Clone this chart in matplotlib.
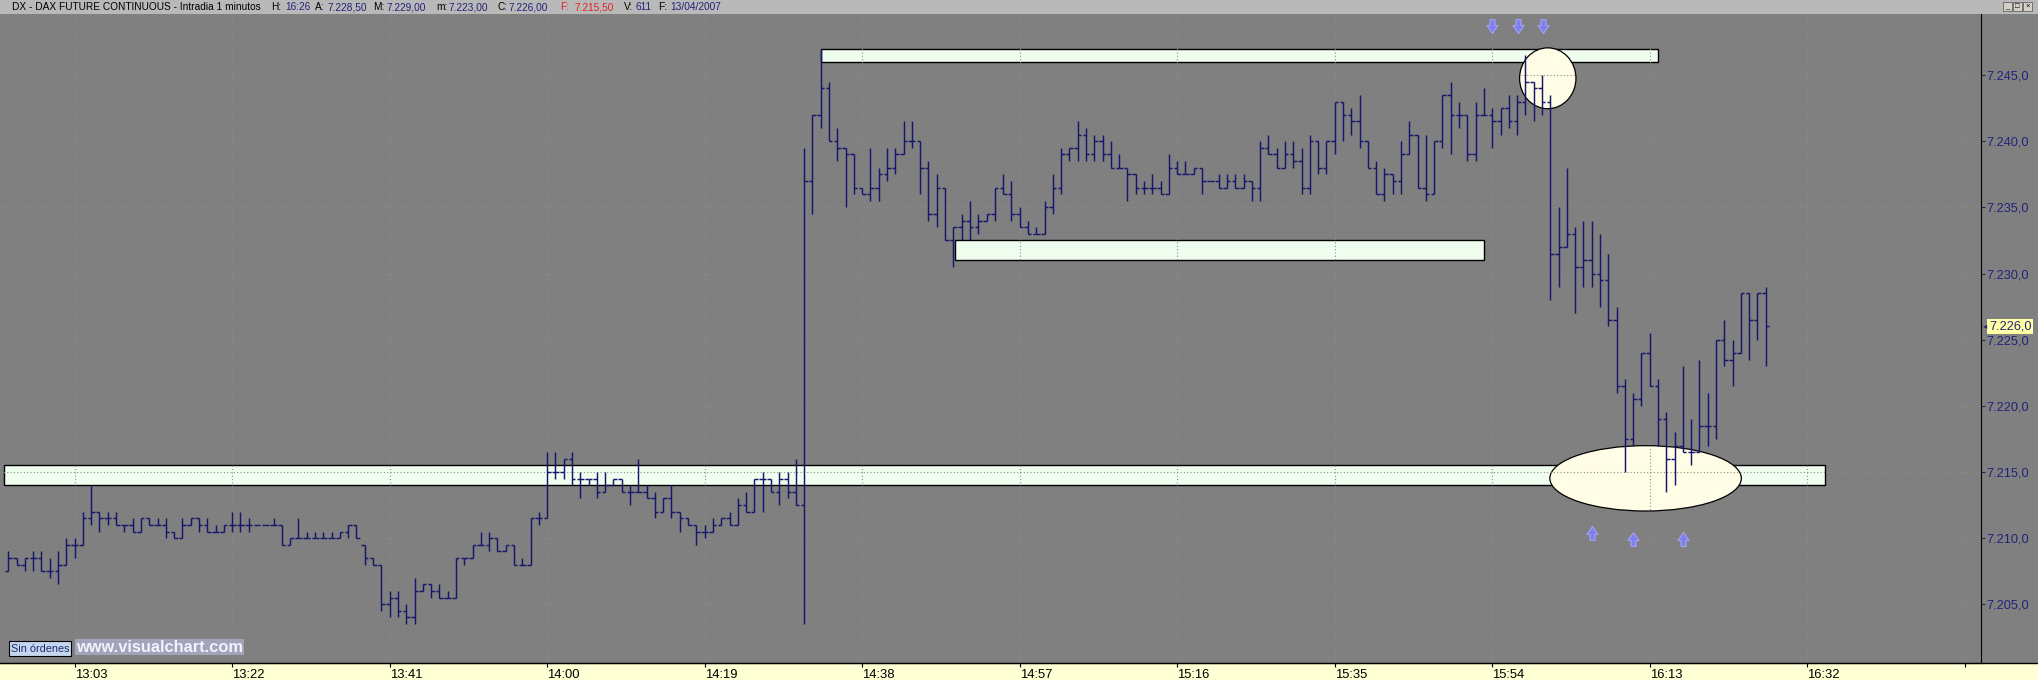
import numpy as np
import matplotlib
matplotlib.use("Agg")
import matplotlib.pyplot as plt
import matplotlib.transforms as mtransforms
from matplotlib.patches import Rectangle, Ellipse
from matplotlib.lines import Line2D

plt.rcParams['font.family'] = ['Liberation Sans', 'DejaVu Sans']

# 1 minute bars, DAX future, 13/04/2007, first bar 12:55
start_time = "12:55"
opens = [
    7207.5, 7208.5, 7208.0, 7208.5, 7208.5, 7207.5, 7207.5, 7208.0, 7209.5, 7209.5,
    7211.5, 7212.0, 7211.5, 7211.5, 7211.0, 7211.0, 7210.5, 7211.5, 7211.0, 7211.0,
    7210.5, 7210.0, 7211.0, 7211.5, 7211.0, 7210.5, 7210.5, 7211.0, 7211.0, 7211.0,
    7211.0, 7211.0, 7211.0, 7211.0, 7209.5, 7210.0, 7210.0, 7210.0, 7210.0, 7210.0,
    7210.0, 7210.5, 7211.0, 7209.5, 7208.5, 7208.0, 7205.0, 7205.5, 7204.5, 7204.0,
    7206.0, 7206.5, 7206.0, 7205.5, 7205.5, 7208.5, 7208.5, 7209.5, 7209.5, 7210.0,
    7209.0, 7209.5, 7208.0, 7208.0, 7211.5, 7211.5, 7215.0, 7215.0, 7216.0, 7214.5,
    7214.5, 7214.5, 7213.5, 7214.0, 7214.5, 7213.5, 7213.5, 7213.5, 7213.0, 7212.0,
    7213.0, 7212.0, 7211.5, 7211.0, 7210.5, 7210.5, 7211.0, 7211.5, 7211.0, 7212.5,
    7212.0, 7214.5, 7214.5, 7213.5, 7214.5, 7213.5, 7212.5, 7237.0, 7242.0, 7244.0,
    7240.0, 7239.5, 7239.0, 7236.5, 7236.0, 7236.5, 7237.5, 7238.0, 7239.0, 7240.0,
    7240.0, 7238.0, 7234.5, 7236.5, 7232.5, 7233.5, 7234.0, 7233.5, 7234.0, 7234.5,
    7236.5, 7236.0, 7234.5, 7233.5, 7233.0, 7233.0, 7235.0, 7236.5, 7239.0, 7239.5,
    7240.5, 7239.0, 7240.0, 7239.0, 7238.0, 7238.0, 7237.5, 7236.5, 7236.5, 7236.5,
    7236.0, 7238.0, 7237.5, 7237.5, 7238.0, 7237.0, 7237.0, 7236.5, 7237.0, 7236.5,
    7237.0, 7236.5, 7239.5, 7239.0, 7238.0, 7239.0, 7238.5, 7236.5, 7240.0, 7238.0,
    7240.0, 7243.0, 7242.0, 7241.5, 7240.0, 7238.0, 7236.0, 7237.5, 7237.0, 7239.0,
    7240.5, 7236.5, 7236.0, 7240.0, 7243.5, 7242.0, 7242.0, 7239.0, 7242.0, 7242.0,
    7241.5, 7242.5, 7241.5, 7243.0, 7244.5, 7244.0, 7243.0, 7231.5, 7232.0, 7233.0,
    7230.5, 7231.0, 7230.0, 7229.5, 7226.5, 7221.5, 7217.5, 7220.5, 7224.0, 7221.5,
    7219.0, 7216.0, 7217.0, 7216.5, 7216.5, 7218.5, 7218.5, 7225.0, 7223.5, 7224.0,
    7228.5, 7226.5, 7228.5,
]
highs = [
    7209.0, 7208.5, 7208.5, 7209.0, 7209.0, 7208.5, 7209.0, 7210.0, 7210.0, 7212.0,
    7214.0, 7212.0, 7212.0, 7212.0, 7211.0, 7211.5, 7211.5, 7211.5, 7211.5, 7211.5,
    7210.5, 7211.5, 7211.5, 7211.5, 7211.5, 7211.0, 7211.0, 7212.0, 7212.0, 7211.5,
    7211.0, 7211.0, 7211.5, 7211.0, 7210.0, 7211.5, 7210.5, 7210.5, 7210.5, 7210.5,
    7210.5, 7211.0, 7211.0, 7209.5, 7208.5, 7208.0, 7206.0, 7206.0, 7205.0, 7207.0,
    7206.5, 7206.5, 7206.5, 7206.0, 7208.5, 7208.5, 7209.5, 7210.5, 7210.5, 7210.0,
    7209.5, 7209.5, 7208.5, 7211.5, 7212.0, 7216.5, 7216.5, 7216.0, 7216.5, 7215.0,
    7214.5, 7215.0, 7215.0, 7214.5, 7214.5, 7214.0, 7216.0, 7214.0, 7213.5, 7213.0,
    7214.0, 7212.0, 7211.5, 7211.0, 7211.0, 7211.5, 7211.5, 7212.0, 7213.0, 7213.5,
    7214.5, 7215.0, 7214.5, 7215.0, 7215.0, 7216.0, 7239.5, 7242.0, 7247.0, 7244.5,
    7241.0, 7239.5, 7239.0, 7236.5, 7239.5, 7238.0, 7239.5, 7239.5, 7241.5, 7241.5,
    7240.0, 7238.5, 7237.5, 7236.5, 7233.5, 7234.5, 7235.5, 7234.5, 7234.5, 7236.5,
    7237.5, 7237.0, 7235.0, 7234.0, 7233.5, 7235.5, 7237.5, 7239.5, 7239.5, 7241.5,
    7241.0, 7240.5, 7240.5, 7240.0, 7239.0, 7238.0, 7237.5, 7237.0, 7237.5, 7237.0,
    7239.0, 7238.5, 7238.5, 7238.0, 7238.0, 7237.0, 7237.5, 7237.5, 7237.5, 7237.5,
    7237.0, 7240.0, 7240.5, 7239.5, 7240.0, 7240.0, 7239.5, 7240.5, 7240.0, 7240.0,
    7243.0, 7243.0, 7242.5, 7243.5, 7240.0, 7238.5, 7238.0, 7237.5, 7240.0, 7241.5,
    7240.5, 7240.5, 7240.0, 7243.5, 7244.5, 7243.0, 7242.0, 7243.0, 7244.0, 7242.5,
    7242.5, 7243.5, 7243.5, 7246.5, 7244.5, 7245.0, 7243.5, 7235.0, 7238.0, 7233.5,
    7234.0, 7234.0, 7233.0, 7231.5, 7227.5, 7222.0, 7221.0, 7224.0, 7225.5, 7222.0,
    7219.5, 7218.0, 7223.0, 7219.0, 7223.5, 7221.0, 7225.0, 7226.5, 7225.0, 7228.5,
    7228.5, 7228.5, 7229.0,
]
lows = [
    7207.5, 7208.0, 7207.5, 7207.5, 7207.5, 7207.0, 7206.5, 7208.0, 7208.5, 7209.5,
    7211.0, 7210.5, 7211.0, 7211.0, 7210.5, 7210.5, 7210.5, 7211.0, 7211.0, 7210.0,
    7210.0, 7210.0, 7211.0, 7210.5, 7210.5, 7210.5, 7210.5, 7210.5, 7210.5, 7210.5,
    7211.0, 7211.0, 7211.0, 7209.5, 7209.5, 7210.0, 7210.0, 7210.0, 7210.0, 7210.0,
    7210.0, 7210.0, 7210.0, 7208.0, 7208.0, 7204.5, 7204.0, 7204.0, 7203.5, 7203.5,
    7206.0, 7205.5, 7205.5, 7205.5, 7205.5, 7208.0, 7208.5, 7209.5, 7209.0, 7209.0,
    7209.0, 7208.0, 7208.0, 7208.0, 7211.0, 7211.5, 7214.5, 7214.5, 7214.0, 7213.0,
    7214.0, 7213.0, 7213.5, 7214.0, 7213.5, 7212.5, 7213.5, 7213.0, 7211.5, 7212.0,
    7211.5, 7210.5, 7211.0, 7209.5, 7210.0, 7210.5, 7211.0, 7211.0, 7211.0, 7212.0,
    7212.0, 7212.0, 7213.5, 7212.5, 7213.0, 7212.5, 7203.5, 7234.5, 7241.0, 7240.0,
    7238.5, 7235.0, 7236.0, 7236.0, 7235.5, 7235.5, 7237.0, 7237.5, 7239.0, 7239.5,
    7236.0, 7234.0, 7233.5, 7232.5, 7230.5, 7232.5, 7232.5, 7233.0, 7234.0, 7234.0,
    7236.0, 7234.0, 7233.5, 7233.0, 7233.0, 7233.0, 7234.5, 7236.0, 7238.5, 7238.5,
    7238.5, 7238.5, 7238.5, 7238.0, 7238.0, 7235.5, 7236.0, 7236.0, 7236.0, 7236.0,
    7236.0, 7237.5, 7237.5, 7237.5, 7236.0, 7237.0, 7236.5, 7236.5, 7236.5, 7236.5,
    7235.5, 7235.5, 7239.0, 7238.0, 7238.0, 7238.0, 7236.0, 7236.0, 7237.5, 7237.5,
    7239.0, 7240.0, 7240.5, 7239.5, 7238.0, 7236.0, 7235.5, 7236.0, 7236.0, 7239.0,
    7236.5, 7235.5, 7236.0, 7239.5, 7239.0, 7241.0, 7238.5, 7238.5, 7242.0, 7239.5,
    7240.5, 7241.0, 7240.5, 7242.0, 7241.5, 7242.0, 7228.0, 7229.0, 7232.0, 7227.0,
    7229.0, 7229.0, 7227.5, 7226.0, 7221.0, 7215.0, 7217.0, 7220.0, 7221.5, 7217.0,
    7213.5, 7214.0, 7216.5, 7215.5, 7216.5, 7217.0, 7217.5, 7223.0, 7221.5, 7224.0,
    7223.5, 7225.0, 7223.0,
]
closes = [
    7208.5, 7208.0, 7208.5, 7208.5, 7207.5, 7207.5, 7208.0, 7209.5, 7209.5, 7211.5,
    7212.0, 7211.5, 7211.5, 7211.0, 7211.0, 7210.5, 7211.5, 7211.0, 7211.0, 7210.5,
    7210.0, 7211.0, 7211.5, 7211.0, 7210.5, 7210.5, 7211.0, 7211.0, 7211.0, 7211.0,
    7211.0, 7211.0, 7211.0, 7209.5, 7210.0, 7210.0, 7210.0, 7210.0, 7210.0, 7210.0,
    7210.5, 7211.0, 7210.0, 7208.5, 7208.0, 7205.0, 7205.5, 7204.5, 7204.0, 7206.0,
    7206.5, 7206.0, 7205.5, 7205.5, 7208.5, 7208.5, 7209.5, 7209.5, 7210.0, 7209.0,
    7209.5, 7208.0, 7208.0, 7211.5, 7211.5, 7215.0, 7215.0, 7216.0, 7214.5, 7214.5,
    7214.5, 7213.5, 7214.0, 7214.5, 7213.5, 7213.5, 7213.5, 7213.0, 7212.0, 7213.0,
    7212.0, 7211.5, 7211.0, 7210.5, 7210.5, 7211.0, 7211.5, 7211.0, 7212.5, 7212.0,
    7214.5, 7214.5, 7213.5, 7214.5, 7213.5, 7212.5, 7237.0, 7242.0, 7244.0, 7240.0,
    7239.5, 7239.0, 7236.5, 7236.0, 7236.5, 7237.5, 7238.0, 7239.0, 7240.0, 7240.0,
    7238.0, 7234.5, 7236.5, 7232.5, 7233.5, 7234.0, 7233.5, 7234.0, 7234.5, 7236.5,
    7236.0, 7234.5, 7233.5, 7233.0, 7233.0, 7235.0, 7236.5, 7239.0, 7239.5, 7240.5,
    7239.0, 7240.0, 7239.0, 7238.0, 7238.0, 7237.5, 7236.5, 7236.5, 7236.5, 7236.0,
    7238.0, 7237.5, 7237.5, 7238.0, 7237.0, 7237.0, 7236.5, 7237.0, 7236.5, 7237.0,
    7236.5, 7239.5, 7239.0, 7238.0, 7239.0, 7238.5, 7236.5, 7240.0, 7238.0, 7240.0,
    7243.0, 7242.0, 7241.5, 7240.0, 7238.0, 7236.0, 7237.5, 7237.0, 7239.0, 7240.5,
    7236.5, 7236.0, 7240.0, 7243.5, 7242.0, 7242.0, 7239.0, 7242.0, 7242.0, 7241.5,
    7242.5, 7241.5, 7243.0, 7244.5, 7244.0, 7243.0, 7231.5, 7232.0, 7233.0, 7230.5,
    7231.0, 7230.0, 7229.5, 7226.5, 7221.5, 7217.5, 7220.5, 7224.0, 7221.5, 7219.0,
    7216.0, 7217.0, 7216.5, 7216.5, 7218.5, 7218.5, 7225.0, 7223.5, 7224.0, 7228.5,
    7226.5, 7228.5, 7226.0,
]

time_ticks = ["13:03", "13:22", "13:41", "14:00", "14:19", "14:38",
              "14:57", "15:16", "15:35", "15:54", "16:13", "16:32", "16:51"]
price_ticks = [7205, 7210, 7215, 7220, 7225, 7230, 7235, 7240, 7245]

header = [
    ("DX - DAX FUTURE CONTINUOUS - Intradia 1 minutos", "black"),
    ("H:", "black"), ("16:26", "#22227a"),
    ("A:", "black"), ("7.228,50", "#22227a"),
    ("M:", "black"), ("7.229,00", "#22227a"),
    ("m:", "black"), ("7.223,00", "#22227a"),
    ("C:", "black"), ("7.226,00", "#22227a"),
    ("F:", "#e02020"), ("7.215,50", "#e02020"),
    ("V:", "black"), ("611", "#22227a"),
    ("F:", "black"), ("13/04/2007", "#22227a"),
]
header_x = [12, 271, 285, 315, 328, 373, 387, 436, 449, 497, 509,
            560, 575, 624, 635, 658, 670]


def minutes(t):
    h, m = t.split(":")
    h0, m0 = start_time.split(":")
    return (int(h) * 60 + int(m)) - (int(h0) * 60 + int(m0))


W, H = 2038, 680
BG = "#808080"
BAR = "#16166c"
NAVY = "#22227a"

fig = plt.figure(figsize=(W / 100, H / 100), dpi=100, facecolor=BG)
ax = fig.add_axes([0, 17 / H, 1981 / W, 649 / H])
ax.set_facecolor(BG)
ax.set_xlim(-1.0, 237.96)
ax.set_ylim(7200.56, 7249.62)

x = np.arange(len(closes))

# zonas marcadas
band_kw = dict(facecolor="#effeef", edgecolor="black", lw=1.0, zorder=1)
ax.add_patch(Rectangle((98.0, 7246.0), 101.0, 1.0, **band_kw))
ax.add_patch(Rectangle((114.2, 7231.0), 63.8, 1.5, **band_kw))
ax.add_patch(Rectangle((-0.5, 7214.0), 219.6, 1.5, **band_kw))
ax.add_patch(Ellipse((185.7, 7244.76), 6.8, 4.6, facecolor="#fffde6",
                     edgecolor="black", lw=0.9, zorder=1.2))
ax.add_patch(Ellipse((197.5, 7214.52), 23.1, 4.94, facecolor="#fffde6",
                     edgecolor="black", lw=0.9, zorder=1.2))

# rejilla punteada (solo se ve sobre las zonas claras)
tick_x = [minutes(t) for t in time_ticks]
for t in tick_x:
    ax.axvline(t, color="#8c8c8c", lw=0.8, ls=(0, (1, 2)), zorder=2)
for p in price_ticks:
    ax.axhline(p, color="#8c8c8c", lw=0.8, ls=(0, (1, 2)), zorder=2)

# barras OHLC
ax.vlines(x, lows, highs, color=BAR, lw=1.05, zorder=4)
ax.hlines(opens, x - 0.42, x, color=BAR, lw=1.05, zorder=4)
ax.hlines(closes, x, x + 0.42, color=BAR, lw=1.05, zorder=4)

# flechas
down_arrow = np.array([(-0.35, 1), (0.35, 1), (0.35, 0.15), (0.8, 0.15), (0, -1),
                       (-0.8, 0.15), (-0.35, 0.15), (-0.35, 1)])
up_arrow = down_arrow * [1, -1]
arrow_kw = dict(ls="none", ms=10, color="#7f7ff0", mec="#a4a4f6", mew=0.8,
                zorder=5, clip_on=False)
ax.plot([179.0, 182.1, 185.1], [7248.7] * 3, marker=down_arrow, **arrow_kw)
ax.plot([191.0, 196.0, 202.0], [7210.4, 7209.9, 7209.9], marker=up_arrow,
        **arrow_kw)

# ejes
for side in ["left", "top"]:
    ax.spines[side].set_visible(False)
ax.spines["right"].set_color("black")
ax.spines["bottom"].set_color("black")

ax.set_xticks(tick_x)
ax.set_xticklabels(time_ticks[:-1] + [""])
ax.tick_params(axis="x", length=3, pad=1, labelsize=9.4, color="black",
               labelcolor="black")
for lbl in ax.get_xticklabels():
    lbl.set_horizontalalignment("left")

ax.yaxis.tick_right()
ax.set_yticks(price_ticks)
ax.set_yticklabels([f"{p // 1000}.{p % 1000:03d},0" for p in price_ticks])
ax.tick_params(axis="y", length=3, pad=1, labelsize=9.2, color=NAVY,
               labelcolor=NAVY)

trans = mtransforms.blended_transform_factory(ax.transAxes, ax.transData)
last = closes[-1]
ax.text(1 + 8 / 1981, last, f"{int(last) // 1000}.{int(last) % 1000:03d},0",
        transform=trans, ha="left", va="center", fontsize=9.2, color=NAVY,
        bbox=dict(boxstyle="square,pad=0.12", fc="#ffffa6", ec="none"),
        clip_on=False, zorder=6)
ax.text(1 + 2 / 1981, last, "\u25c2", transform=trans, ha="left",
        va="center", fontsize=6, color=NAVY, clip_on=False, zorder=6)

# barra de titulo y franja del eje de tiempo
fig.add_artist(Rectangle((0, 1 - 14 / H), 1, 14 / H, transform=fig.transFigure,
                         facecolor="#b9b9b9", edgecolor="none", zorder=-1))
fig.add_artist(Rectangle((0, 0), 1, 17 / H, transform=fig.transFigure,
                         facecolor="#ffffd4", edgecolor="none", zorder=-1))
fig.add_artist(Line2D([0, 1], [17 / H, 17 / H], transform=fig.transFigure,
                      color="black", lw=1.0, zorder=3))

for (txt, col), px in zip(header, header_x):
    fig.text(px / W, 1 - 7.5 / H, txt, color=col, fontsize=7.3,
             ha="left", va="center")

for i, sym in enumerate(["_", "\u25a1", "\u00d7"]):
    bx = 2003 + i * 10
    fig.add_artist(Rectangle((bx / W, 1 - 11 / H), 9 / W, 9 / H,
                             transform=fig.transFigure, facecolor="#d4d0c8",
                             edgecolor="#505050", lw=0.5, zorder=5))
    fig.text((bx + 4.5) / W, 1 - 6.5 / H, sym, fontsize=5.5, ha="center",
             va="center", color="black", zorder=6)

# botones de la esquina inferior
fig.add_artist(Rectangle((9 / W, 1 - 656 / H), 62 / W, 15 / H,
                         transform=fig.transFigure, facecolor="#c6d6ee",
                         edgecolor="black", lw=0.8, zorder=5))
fig.text(40 / W, 1 - 648.5 / H, "Sin órdenes", fontsize=7.8, color="#1c2a70",
         ha="center", va="center", zorder=6)
fig.text(76 / W, 1 - 647 / H, "www.visualchart.com", fontsize=11.8,
         fontweight="bold", color="#f2f2ff", ha="left", va="center", zorder=6,
         bbox=dict(boxstyle="square,pad=0.05", fc="#a2a4ba", ec="none"))

fig.savefig("out.png", dpi=100, facecolor=BG)
